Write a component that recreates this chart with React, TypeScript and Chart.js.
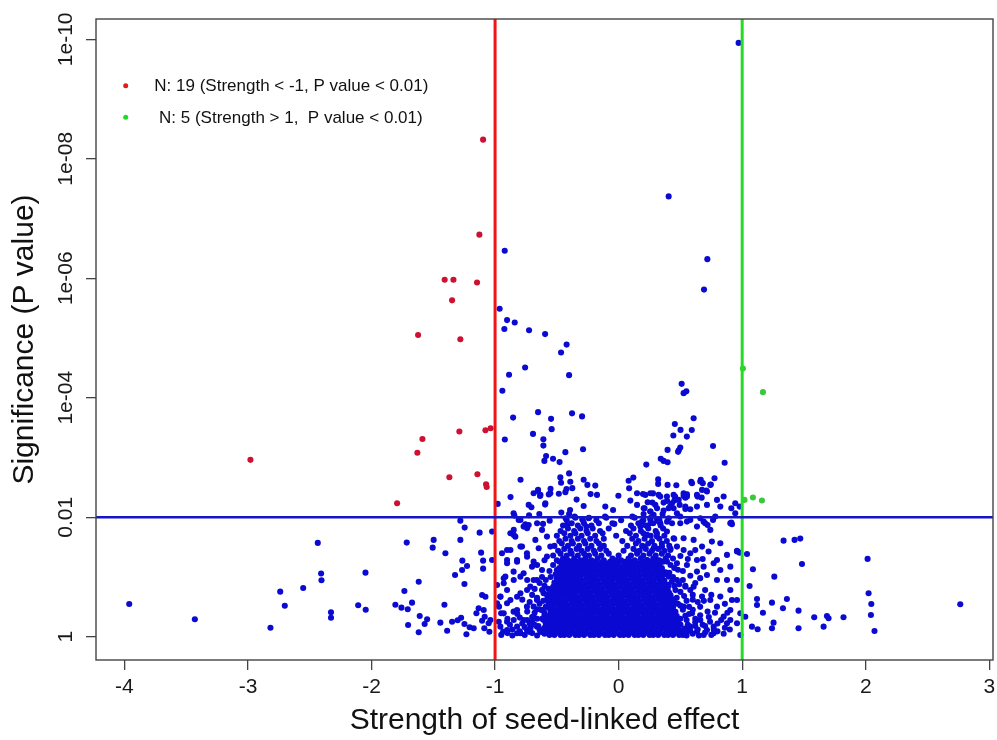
import React, { useEffect, useRef } from "react";
import { Chart, registerables } from "chart.js";

Chart.register(...registerables);

const FONT = '"Liberation Sans", Arial, Helvetica, sans-serif';

// ---------- axes ----------
const xTickValues = [-4, -3, -2, -1, 0, 1, 2, 3];
const yTickValues = [0, 2, 4, 6, 8, 10]; // -log10(P)
const yTickLabels = ["1", "0.01", "1e-04", "1e-06", "1e-08", "1e-10"];
const xLimits = [-4.23, 3.03];
const yLimits = [-0.39, 10.34];
const xTitle = "Strength of seed-linked effect";
const yTitle = "Significance (P value)";

// ---------- thresholds ----------
const strengthCutoffs = [-1, 1];
const pValueCutoff = 0.01;

// ---------- legend ----------
const legendLabels = [
  "N: 19 (Strength < -1, P value < 0.01)",
  " N: 5 (Strength > 1,  P value < 0.01)",
];

// ---------- data: [strength, -log10(P)] ----------
const redPoints: [number, number][] = [
  [-1.097, 8.32], [-1.127, 6.73], [-1.408, 5.975], [-1.337, 5.975], [-1.146, 5.93],
  [-1.348, 5.63], [-1.623, 5.05], [-1.281, 4.98], [-1.078, 3.457], [-1.036, 3.49],
  [-1.289, 3.434], [-1.588, 3.31], [-1.629, 3.08], [-1.37, 2.67], [-1.143, 2.72],
  [-1.073, 2.553], [-1.068, 2.507], [-1.793, 2.234], [-2.98, 2.96],
];

const greenPoints: [number, number][] = [
  [1.006, 4.49], [1.168, 4.094], [1.019, 2.29], [1.087, 2.33], [1.16, 2.28],
];

const blueScatter: [number, number][] = [
  [0.971, 9.94], [0.405, 7.37], [-0.922, 6.46], [0.718, 6.32], [0.691, 5.81],
  [-0.963, 5.49], [-0.903, 5.3], [-0.841, 5.26], [-0.925, 5.15], [-0.725, 5.13], [-0.595, 5.065],
  [-0.421, 4.89], [-0.466, 4.757], [-0.757, 4.506], [-0.887, 4.384], [-0.401, 4.378], [-0.941, 4.116],
  [-0.652, 3.759], [-0.854, 3.668], [-0.547, 3.647], [-0.377, 3.739], [-0.296, 3.688], [-0.542, 3.474],
  [-0.693, 3.395], [-0.921, 3.3], [-0.609, 3.306], [-0.609, 3.199], [-0.288, 3.139], [-0.431, 3.089],
  [-0.587, 3.023], [-0.601, 2.943], [-0.531, 2.98], [-0.478, 2.923], [-0.401, 2.734], [-0.472, 2.667],
  [-0.391, 2.595], [-0.466, 2.578], [-0.794, 2.628], [-0.283, 2.628], [-0.253, 2.541], [-0.189, 2.529],
  [-0.375, 2.487], [-0.422, 2.471], [-0.654, 2.44], [-0.551, 2.477], [-0.484, 2.394], [-0.431, 2.42],
  [-0.565, 2.382], [-0.636, 2.357], [-0.227, 2.387], [-0.175, 2.374], [-0.002, 2.36], [0.081, 2.611],
  [0.085, 2.486], [-0.875, 2.337], [0.119, 2.663],
  [-0.979, 2.223], [-0.34, 2.295], [-0.706, 2.167], [-0.595, 2.211], [-0.108, 2.178], [-0.045, 2.122],
  [-0.283, 2.189], [-0.393, 2.122], [-0.464, 2.077], [-0.401, 2.055], [-0.642, 2.055], [-0.725, 2.034],
  [-0.844, 2.027], [-0.795, 1.955], [-0.755, 1.883], [-0.612, 1.888], [-0.558, 1.943], [-0.429, 1.983],
  [-0.356, 2.01], [-0.294, 1.966], [-0.243, 1.983], [-0.417, 1.871], [-0.261, 1.843], [-0.11, 2.01],
  [-0.035, 1.888],
  [0.51, 4.233], [0.526, 4.077], [0.548, 4.107], [0.607, 3.658], [0.455, 3.56], [0.501, 3.462],
  [0.592, 3.459], [0.443, 3.367], [0.552, 3.35], [0.764, 3.191], [0.396, 3.127], [0.487, 3.122],
  [0.499, 3.166], [0.481, 3.094], [0.858, 2.913], [0.224, 2.881], [0.341, 2.98], [0.364, 2.943],
  [0.396, 2.921], [0.32, 2.633], [0.32, 2.558], [0.396, 2.541], [0.467, 2.536], [0.588, 2.591],
  [0.665, 2.625], [0.681, 2.57], [0.746, 2.546], [0.776, 2.653], [0.71, 2.446], [0.672, 2.328],
  [0.639, 2.345], [0.553, 2.385], [0.54, 2.328], [0.526, 2.357], [0.457, 2.345], [0.392, 2.273],
  [0.337, 2.345], [0.278, 2.399], [0.273, 2.245], [0.235, 2.251], [0.197, 2.39], [0.095, 2.278],
  [0.149, 2.206], [0.21, 2.151], [0.256, 2.094], [0.311, 2.151], [0.418, 2.189], [0.451, 2.278],
  [0.494, 2.206], [0.54, 2.139], [0.472, 2.067], [0.58, 2.134], [0.405, 2.151], [0.356, 2.055],
  [0.283, 2.039], [0.202, 2.055], [0.111, 2.01], [0.189, 1.926], [0.256, 1.966], [0.311, 1.966],
  [0.337, 1.9], [0.392, 1.926], [0.432, 1.9], [0.499, 1.9], [0.58, 1.955], [0.661, 1.983],
  [0.72, 1.871], [0.688, 1.926], [0.764, 1.955], [0.912, 2.151], [0.944, 2.234], [0.979, 2.178],
  [0.912, 1.91], [0.917, 1.883],
  [-3.961, 0.548], [-3.43, 0.291], [-2.818, 0.151], [-2.739, 0.754], [-2.702, 0.519], [-2.553, 0.816],
  [-2.435, 1.57], [-2.408, 1.059], [-2.405, 0.945], [-2.328, 0.41], [-2.328, 0.317], [-2.049, 1.072],
  [-2.108, 0.526], [-2.047, 0.452], [-1.715, 1.575], [-1.497, 1.62], [-1.505, 1.491], [-1.402, 1.397],
  [-1.618, 0.921], [-1.734, 0.765], [-1.807, 0.536], [-1.758, 0.486], [-1.707, 0.459], [-1.672, 0.57],
  [-1.704, 0.196], [-1.61, 0.347], [-1.55, 0.291], [-1.57, 0.213], [-1.618, 0.074], [-1.41, 0.536],
  [-1.443, 0.235], [-1.388, 0.1], [-1.348, 0.251], [-1.303, 0.275], [-1.248, 0.213], [-1.275, 0.318],
  [-1.232, 0.04], [-1.206, 0.157], [-1.173, 0.141], [-1.151, 0.392], [-1.133, 0.476], [-1.084, 0.335],
  [-1.087, 0.141], [-1.105, 0.268], [-1.052, 0.224], [-1.046, 0.084], [-1.105, 0.698], [-1.078, 0.67],
  [-1.248, 0.883], [-1.324, 1.033], [-1.267, 1.117], [-1.227, 1.184], [-1.265, 1.273], [-1.281, 1.62],
  [-1.246, 1.826], [-1.281, 1.943], [-1.125, 1.742], [-1.113, 1.407], [-1.097, 1.273], [-1.097, 1.139],
  [-1.024, 1.759], [-1.024, 1.285], [-0.984, 0.866], [-0.951, 0.392], [-0.968, 0.503], [-0.957, 0.67],
  [-0.93, 0.978], [-0.903, 1.452], [-0.876, 1.732], [-0.836, 1.675], [-0.809, 1.955], [-0.85, 2.067],
  [-0.782, 1.508], [-0.741, 1.816], [-0.728, 2.206], [-0.688, 2.402], [-0.652, 2.457], [-0.633, 2.374],
  [-0.593, 2.234], [-0.553, 2.402], [-0.66, 1.9], [-0.647, 1.481], [-0.688, 1.256], [-0.741, 1.34],
  [-0.822, 1.256], [-0.903, 1.285], [-0.85, 1.089], [-0.917, 1.005], [-0.795, 1.005], [-0.688, 0.95],
  [-0.903, 0.782], [-0.822, 0.67], [-0.741, 0.782], [-0.903, 0.559], [-0.85, 0.419], [-0.903, 0.251],
  [-0.935, 0.084], [-0.822, 0.168], [-0.795, 0.057], [-0.741, 0.28], [-0.688, 0.503], [-0.714, 0.141],
  [-0.633, 0.084], [-0.579, 0.28], [-0.526, 0.224],
  [1.335, 1.608], [1.424, 1.62], [1.47, 1.642], [1.484, 1.218], [1.26, 1.005], [1.06, 0.849],
  [1.087, 1.129], [1.039, 1.385], [0.979, 1.407], [1.12, 0.631], [1.12, 0.531], [1.241, 0.57],
  [1.362, 0.631], [1.33, 0.476], [1.168, 0.402], [1.025, 0.335], [1.254, 0.235], [1.241, 0.141],
  [1.079, 0.168], [1.125, 0.124], [1.456, 0.436], [1.456, 0.141], [1.583, 0.325], [1.686, 0.347],
  [1.699, 0.308], [1.659, 0.168], [1.82, 0.325], [2.015, 1.302], [2.023, 0.727], [2.045, 0.548],
  [2.042, 0.363], [2.071, 0.095], [2.765, 0.543], [0.958, 1.44], [0.904, 1.9], [0.985, 0.028],
  [0.149, 2.402], [0.216, 2.374], [0.257, 2.402], [0.324, 2.374], [0.391, 2.346], [0.445, 2.374],
  [0.526, 2.402], [0.553, 2.346], [0.594, 2.569], [0.661, 2.597], [0.742, 2.541], [0.675, 2.457],
  [0.715, 2.43], [0.634, 2.374], [0.486, 2.29], [0.432, 2.234], [0.364, 2.245], [0.297, 2.206],
  [0.203, 2.15], [0.257, 2.095], [0.364, 2.111], [0.445, 2.15], [0.54, 2.178], [0.634, 2.178],
  [0.715, 2.206], [0.796, 2.29], [0.85, 2.346], [0.823, 2.178], [0.944, 2.067], [0.782, 2.011],
  [0.701, 1.899], [0.742, 1.788], [0.634, 1.843], [0.553, 1.927], [0.499, 2.011], [0.405, 1.983],
  [0.324, 1.927], [0.257, 1.899], [0.176, 1.843], [0.23, 1.704], [0.31, 1.676], [0.391, 1.76],
  [0.445, 1.648], [0.526, 1.648], [0.607, 1.62], [0.675, 1.508], [0.755, 1.592], [0.823, 1.564],
  [0.728, 1.425], [0.796, 1.285], [0.877, 1.369], [0.958, 1.425], [0.904, 1.173], [0.823, 1.117],
  [0.769, 1.229], [0.688, 1.173], [0.634, 1.285], [0.58, 1.397], [0.526, 1.452], [0.472, 1.508],
  [0.418, 1.452], [0.351, 1.508], [0.283, 1.48], [0.203, 1.508], [0.149, 1.425], [0.23, 1.285],
  [0.31, 1.285], [0.391, 1.257], [0.472, 1.229], [0.553, 1.201], [0.634, 1.09], [0.715, 1.034],
  [0.796, 0.95], [0.877, 0.95], [0.904, 0.782], [0.958, 0.95], [0.917, 0.615], [0.958, 0.615],
  [0.985, 0.392], [0.904, 0.447], [0.85, 0.336], [0.796, 0.503], [0.742, 0.615], [0.675, 0.671],
  [0.607, 0.838], [0.54, 0.838], [0.472, 0.95], [0.405, 1.006], [0.337, 1.062], [0.257, 1.09],
  [0.823, 0.671], [0.877, 0.224], [0.904, 0.28], [0.958, 0.224], [0.769, 0.168], [0.715, 0.112],
  [0.661, 0.28], [0.594, 0.392], [0.526, 0.503], [0.459, 0.559], [0.391, 0.671], [0.769, 0.057],
  [0.688, 0.029], [0.634, 0.085], [0.58, 0.168], [0.526, 0.057], [0.445, 0.168], [0.364, 0.28],
  [-0.849, 1.788], [-0.769, 1.843], [-0.728, 1.871], [-0.849, 1.704], [-0.795, 1.508], [-0.876, 1.452],
  [-0.944, 1.397], [-0.903, 1.229], [-0.822, 1.285], [-0.742, 1.397], [-0.674, 1.62], [-0.62, 1.788],
  [-0.58, 1.676], [-0.701, 1.173], [-0.769, 1.062], [-0.849, 0.95], [-0.93, 0.894], [-0.957, 0.671],
  [-0.876, 0.615], [-0.795, 0.727], [-0.715, 0.838], [-0.661, 0.95], [-0.62, 1.117], [-0.58, 1.341],
  [-0.553, 1.508], [-0.822, 0.447], [-0.742, 0.503], [-0.661, 0.615], [-0.607, 0.727], [-0.93, 0.391],
  [-0.849, 0.28], [-0.769, 0.28], [-0.688, 0.336], [-0.62, 0.447], [-0.566, 0.559], [-0.903, 0.112],
  [-0.822, 0.057], [-0.742, 0.112], [-0.661, 0.168], [-0.607, 0.28], [-0.553, 0.336], [-0.957, 0.168],
  [-0.984, 0.559], [-1.038, 0.28], [-1.092, 0.447],
  [-0.95, 0.03], [-0.9, 0.06], [-0.86, 0.02], [-0.8, 0.09], [-0.76, 0.03], [-0.7, 0.06], [-0.66, 0.02],
  [-0.62, 0.08], [-0.6, 0.15], [-0.97, 0.25], [-0.88, 0.2], [-0.8, 0.32], [-0.72, 0.22], [-0.66, 0.3],
  [-0.6, 0.4], [-0.64, 0.55], [-0.58, 0.7], [-0.7, 0.7], [-0.6, 0.85],
  [0.55, 0.02], [0.6, 0.05], [0.65, 0.02], [0.7, 0.07], [0.75, 0.03], [0.8, 0.09], [0.85, 0.05],
  [0.9, 0.12], [0.56, 0.12], [0.62, 0.18], [0.68, 0.2], [0.74, 0.25], [0.83, 0.28], [0.5, 0.3],
  [0.55, 0.28], [0.6, 0.45], [0.66, 0.5], [0.72, 0.42], [0.48, 0.55], [0.55, 0.6], [0.5, 0.75],
  [0.45, 0.85], [0.52, 0.95], [0.44, 1.0], [0.48, 1.12], [0.42, 1.2],
  [-0.6, 0.05], [-0.61, 0.12], [-0.59, 0.22], [-0.62, 0.3], [-0.6, 0.36], [-0.63, 0.45], [-0.59, 0.5],
  [-0.61, 0.6], [-0.58, 0.62], [-0.62, 0.78], [-0.57, 0.8], [-0.59, 0.95], [-0.55, 1.0], [-0.56, 1.1],
  [-0.53, 1.2], [-0.65, 0.18], [-0.68, 0.4], [-0.66, 0.65], [-0.64, 0.9], [-0.7, 0.25],
  [0.53, 0.08], [0.56, 0.2], [0.54, 0.35], [0.52, 0.45], [0.57, 0.38], [0.5, 0.52], [0.53, 0.68],
  [0.47, 0.65], [0.46, 0.78], [0.49, 0.88], [0.43, 0.92], [0.41, 1.07], [0.45, 1.15], [0.62, 0.3],
  [0.64, 0.12], [0.6, 0.62], [0.58, 0.78],
  [0.58, 0.1], [0.62, 0.24], [0.66, 0.36], [0.7, 0.18], [0.73, 0.33], [0.77, 0.12], [0.8, 0.22],
  [0.64, 0.58], [0.69, 0.6], [0.7, 0.78], [0.62, 0.9], [0.66, 0.98], [0.75, 0.7], [0.78, 0.4],
  [0.86, 0.15], [0.57, 0.5], [0.6, 0.7], [0.54, 0.85], [0.58, 1.02], [0.52, 1.1], [0.56, 1.3],
  [0.5, 1.35], [0.62, 1.45], [0.68, 1.3], [0.86, 0.55], [0.88, 0.4],
  [-0.64, 0.12], [-0.68, 0.2], [-0.72, 0.08], [-0.76, 0.16], [-0.7, 0.33], [-0.74, 0.42], [-0.78, 0.22],
  [-0.66, 0.46], [-0.72, 0.58], [-0.78, 0.62], [-0.68, 0.8], [-0.74, 0.95], [-0.62, 1.0], [-0.66, 1.2],
  [-0.6, 1.28], [-0.82, 0.38], [-0.86, 0.12], [-0.9, 0.3],
];

// dense central cloud, read row by row: [-log10(P), strengths...]
const blueCloudRows: [number, number[]][] = [
  [0.03, [-0.56, -0.52, -0.47, -0.44, -0.4, -0.35, -0.32, -0.28, -0.23, -0.2, -0.16, -0.11, -0.08, -0.04, 0.01, 0.04, 0.08, 0.13, 0.16, 0.2, 0.25, 0.28, 0.32, 0.37, 0.4, 0.44, 0.49, 0.52]],
  [0.065, [-0.58, -0.54, -0.5, -0.45, -0.42, -0.38, -0.33, -0.3, -0.26, -0.21, -0.18, -0.14, -0.09, -0.06, -0.02, 0.03, 0.06, 0.1, 0.15, 0.18, 0.22, 0.27, 0.3, 0.34, 0.39, 0.42, 0.46, 0.51, 0.55]],
  [0.1, [-0.54, -0.5, -0.45, -0.42, -0.38, -0.33, -0.3, -0.26, -0.21, -0.18, -0.14, -0.09, -0.06, -0.02, 0.03, 0.06, 0.1, 0.15, 0.18, 0.22, 0.27, 0.3, 0.34, 0.39, 0.42, 0.46, 0.5]],
  [0.135, [-0.57, -0.52, -0.48, -0.44, -0.4, -0.36, -0.31, -0.28, -0.24, -0.19, -0.16, -0.12, -0.07, -0.04, 0.0, 0.05, 0.08, 0.12, 0.17, 0.2, 0.24, 0.29, 0.32, 0.36, 0.41, 0.44, 0.48, 0.53]],
  [0.17, [-0.56, -0.51, -0.48, -0.44, -0.39, -0.36, -0.32, -0.27, -0.24, -0.2, -0.15, -0.12, -0.08, -0.03, 0.0, 0.04, 0.09, 0.12, 0.16, 0.21, 0.24, 0.28, 0.33, 0.36, 0.4, 0.45, 0.48]],
  [0.205, [-0.58, -0.53, -0.5, -0.46, -0.41, -0.38, -0.34, -0.29, -0.26, -0.22, -0.17, -0.14, -0.1, -0.05, -0.02, 0.02, 0.07, 0.1, 0.14, 0.19, 0.22, 0.26, 0.31, 0.34, 0.38, 0.43, 0.46, 0.5]],
  [0.24, [-0.54, -0.49, -0.46, -0.42, -0.37, -0.34, -0.3, -0.25, -0.22, -0.18, -0.13, -0.1, -0.06, -0.01, 0.02, 0.06, 0.11, 0.14, 0.18, 0.23, 0.26, 0.3, 0.35, 0.38, 0.42, 0.46]],
  [0.275, [-0.56, -0.52, -0.48, -0.44, -0.39, -0.36, -0.32, -0.27, -0.24, -0.2, -0.15, -0.12, -0.08, -0.03, 0.0, 0.04, 0.09, 0.12, 0.16, 0.21, 0.24, 0.28, 0.33, 0.36, 0.4, 0.44, 0.48]],
  [0.31, [-0.55, -0.5, -0.47, -0.43, -0.38, -0.35, -0.31, -0.26, -0.23, -0.19, -0.14, -0.11, -0.07, -0.02, 0.01, 0.05, 0.1, 0.13, 0.17, 0.22, 0.25, 0.29, 0.34, 0.37, 0.41, 0.45]],
  [0.345, [-0.57, -0.53, -0.49, -0.45, -0.41, -0.37, -0.33, -0.28, -0.25, -0.21, -0.16, -0.13, -0.09, -0.04, -0.01, 0.03, 0.08, 0.11, 0.15, 0.2, 0.23, 0.27, 0.32, 0.35, 0.39, 0.43, 0.47]],
  [0.38, [-0.53, -0.49, -0.45, -0.4, -0.37, -0.33, -0.28, -0.25, -0.21, -0.16, -0.13, -0.09, -0.04, -0.01, 0.03, 0.08, 0.11, 0.15, 0.2, 0.23, 0.27, 0.32, 0.35, 0.39, 0.44]],
  [0.415, [-0.55, -0.51, -0.47, -0.42, -0.39, -0.35, -0.3, -0.27, -0.23, -0.18, -0.15, -0.11, -0.06, -0.03, 0.01, 0.06, 0.09, 0.13, 0.18, 0.21, 0.25, 0.3, 0.33, 0.37, 0.42, 0.46]],
  [0.45, [-0.55, -0.51, -0.46, -0.43, -0.39, -0.34, -0.31, -0.27, -0.22, -0.19, -0.15, -0.1, -0.07, -0.03, 0.02, 0.05, 0.09, 0.14, 0.17, 0.21, 0.26, 0.29, 0.33, 0.38, 0.42]],
  [0.485, [-0.57, -0.53, -0.48, -0.45, -0.41, -0.36, -0.33, -0.29, -0.24, -0.21, -0.17, -0.12, -0.09, -0.05, 0.0, 0.03, 0.07, 0.12, 0.15, 0.19, 0.24, 0.27, 0.31, 0.36, 0.4, 0.44]],
  [0.52, [-0.53, -0.48, -0.45, -0.41, -0.36, -0.33, -0.29, -0.24, -0.21, -0.17, -0.12, -0.09, -0.05, 0.0, 0.03, 0.07, 0.12, 0.15, 0.19, 0.24, 0.27, 0.31, 0.36, 0.4, 0.44]],
  [0.555, [-0.55, -0.5, -0.47, -0.43, -0.38, -0.35, -0.31, -0.26, -0.23, -0.19, -0.14, -0.11, -0.07, -0.02, 0.01, 0.05, 0.1, 0.13, 0.17, 0.22, 0.25, 0.29, 0.34, 0.38, 0.42, 0.46]],
  [0.59, [-0.54, -0.5, -0.47, -0.43, -0.38, -0.35, -0.31, -0.26, -0.23, -0.19, -0.14, -0.11, -0.07, -0.02, 0.01, 0.05, 0.1, 0.13, 0.17, 0.22, 0.25, 0.29, 0.34, 0.38, 0.42]],
  [0.625, [-0.56, -0.52, -0.49, -0.45, -0.4, -0.37, -0.33, -0.28, -0.25, -0.21, -0.16, -0.13, -0.09, -0.04, -0.01, 0.03, 0.08, 0.11, 0.15, 0.2, 0.23, 0.27, 0.32, 0.36, 0.4, 0.44]],
  [0.66, [-0.52, -0.48, -0.45, -0.4, -0.37, -0.33, -0.28, -0.25, -0.21, -0.16, -0.13, -0.09, -0.04, -0.01, 0.03, 0.08, 0.11, 0.15, 0.2, 0.23, 0.27, 0.32, 0.36, 0.4]],
  [0.695, [-0.54, -0.5, -0.47, -0.42, -0.39, -0.35, -0.3, -0.27, -0.23, -0.18, -0.15, -0.11, -0.06, -0.03, 0.01, 0.06, 0.09, 0.13, 0.18, 0.21, 0.25, 0.3, 0.34, 0.38, 0.42]],
  [0.73, [-0.53, -0.5, -0.46, -0.42, -0.38, -0.35, -0.3, -0.27, -0.23, -0.18, -0.15, -0.11, -0.06, -0.03, 0.01, 0.06, 0.09, 0.13, 0.18, 0.21, 0.25, 0.3, 0.34, 0.41]],
  [0.765, [-0.55, -0.52, -0.48, -0.44, -0.4, -0.37, -0.32, -0.29, -0.25, -0.2, -0.17, -0.13, -0.08, -0.05, -0.01, 0.04, 0.07, 0.11, 0.16, 0.19, 0.23, 0.28, 0.32, 0.36, 0.4]],
  [0.8, [-0.51, -0.48, -0.44, -0.4, -0.36, -0.32, -0.28, -0.25, -0.2, -0.16, -0.13, -0.08, -0.05, -0.01, 0.04, 0.07, 0.11, 0.16, 0.19, 0.23, 0.28, 0.32, 0.38]],
  [0.835, [-0.53, -0.5, -0.46, -0.42, -0.38, -0.34, -0.3, -0.27, -0.22, -0.18, -0.15, -0.1, -0.07, -0.03, 0.02, 0.05, 0.09, 0.14, 0.17, 0.21, 0.26, 0.3, 0.35, 0.4]],
  [0.87, [-0.5, -0.46, -0.42, -0.38, -0.34, -0.3, -0.27, -0.22, -0.18, -0.15, -0.1, -0.07, -0.03, 0.02, 0.05, 0.09, 0.14, 0.17, 0.21, 0.26, 0.3, 0.35, 0.4]],
  [0.905, [-0.52, -0.48, -0.44, -0.4, -0.36, -0.32, -0.29, -0.24, -0.2, -0.17, -0.12, -0.09, -0.05, 0.0, 0.03, 0.07, 0.12, 0.15, 0.19, 0.24, 0.28, 0.33, 0.37]],
  [0.94, [-0.48, -0.44, -0.4, -0.36, -0.32, -0.29, -0.24, -0.2, -0.17, -0.12, -0.09, -0.05, 0.0, 0.03, 0.07, 0.12, 0.15, 0.19, 0.24, 0.28, 0.33, 0.37]],
  [0.975, [-0.5, -0.46, -0.42, -0.38, -0.34, -0.31, -0.26, -0.22, -0.19, -0.14, -0.11, -0.07, -0.02, 0.01, 0.05, 0.1, 0.13, 0.17, 0.22, 0.26, 0.31, 0.35]],
  [1.01, [-0.49, -0.46, -0.42, -0.38, -0.34, -0.31, -0.26, -0.22, -0.19, -0.14, -0.11, -0.06, -0.02, 0.02, 0.05, 0.1, 0.13, 0.17, 0.22, 0.26, 0.31, 0.35]],
  [1.045, [-0.51, -0.48, -0.44, -0.4, -0.36, -0.33, -0.28, -0.24, -0.21, -0.16, -0.13, -0.08, -0.04, 0.0, 0.04, 0.08, 0.12, 0.15, 0.2, 0.24, 0.29, 0.33, 0.37]],
  [1.08, [-0.47, -0.44, -0.4, -0.36, -0.33, -0.28, -0.24, -0.21, -0.16, -0.12, -0.07, -0.03, 0.0, 0.04, 0.08, 0.11, 0.15, 0.2, 0.24, 0.29, 0.33, 0.38]],
  [1.115, [-0.5, -0.46, -0.42, -0.38, -0.35, -0.31, -0.26, -0.22, -0.19, -0.14, -0.1, -0.06, -0.02, 0.02, 0.06, 0.1, 0.13, 0.18, 0.22, 0.27, 0.31, 0.35]],
  [1.15, [-0.48, -0.42, -0.38, -0.35, -0.3, -0.26, -0.23, -0.18, -0.14, -0.09, -0.04, 0.01, 0.06, 0.09, 0.13, 0.18, 0.22, 0.27, 0.31, 0.35]],
  [1.185, [-0.45, -0.41, -0.36, -0.33, -0.28, -0.24, -0.21, -0.16, -0.12, -0.07, -0.03, 0.04, 0.08, 0.11, 0.15, 0.2, 0.24, 0.29, 0.33]],
  [1.22, [-0.46, -0.4, -0.37, -0.32, -0.28, -0.25, -0.2, -0.15, -0.1, -0.04, 0.0, 0.07, 0.11, 0.16, 0.2, 0.25, 0.29, 0.33]],
  [1.255, [-0.48, -0.43, -0.39, -0.34, -0.3, -0.24, -0.19, -0.13, -0.07, 0.05, 0.1, 0.14, 0.19, 0.23, 0.27, 0.31, 0.36]],
  [1.28, [-0.5, -0.41, -0.31, -0.22, -0.12, -0.02, 0.02, 0.13, 0.23, 0.33]],
  [1.31, [-0.45, -0.36, -0.27, -0.17, -0.05, 0.08, 0.18, 0.28, 0.38, 0.44]],
  [1.36, [-0.53, -0.42, -0.33, -0.24, -0.14, 0.0, 0.1, 0.2, 0.3, 0.4]],
  [1.39, [-0.47, -0.38, -0.28, -0.19, -0.08, 0.15, 0.25, 0.35]],
  [1.44, [-0.49, -0.39, -0.3, -0.2, -0.1, 0.04, 0.17, 0.27, 0.37]],
  [1.47, [-0.44, -0.34, -0.25, -0.15, 0.12, 0.22, 0.32, 0.42]],
  [1.52, [-0.52, -0.41, -0.32, -0.22, -0.12, 0.07, 0.19, 0.29, 0.41]],
  [1.56, [-0.46, -0.37, -0.27, -0.16, 0.14, 0.24, 0.35]],
  [1.6, [-0.48, -0.38, -0.28, -0.18, 0.03, 0.16, 0.27, 0.39]],
  [1.64, [-0.43, -0.33, -0.23, -0.12, 0.11, 0.21, 0.33, 0.45]],
  [1.69, [-0.5, -0.39, -0.3, -0.19, -0.02, 0.14, 0.26, 0.37]],
  [1.73, [-0.44, -0.35, -0.25, -0.13, 0.09, 0.2, 0.31]],
  [1.77, [-0.47, -0.36, -0.26, -0.15, 0.06, 0.18, 0.3]],
  [1.81, [-0.41, -0.31, -0.21, -0.08, 0.12, 0.24, 0.36]],
  [1.86, [-0.45, -0.33, -0.22, 0.1, 0.22, 0.34]],
  [1.9, [-0.38, -0.28, -0.16, -0.05, 0.16, 0.28]],
  [1.95, [-0.42, -0.29, -0.18, 0.02, 0.2, 0.33]],
  [1.99, [-0.35, -0.24, -0.1, 0.13, 0.26]],
];

// ---------- colours ----------
const blueColor = "#0a0ad2";
const redColor = "#cc1133";
const greenColor = "#3cc83c";
const legendColors = ["#e41a1a", "#1fdc1f"];
const cutoffColors = ["#f01414", "#22dd22"];
const pLineColor = "#1515c8";

const overlayPlugin = {
  id: "overlay",
  afterDatasetsDraw(chart: any) {
    const { ctx, chartArea: a, scales } = chart;
    const xs = scales.x;
    const ys = scales.y;
    ctx.save();
    ctx.beginPath();
    ctx.rect(a.left, a.top, a.right - a.left, a.bottom - a.top);
    ctx.clip();
    strengthCutoffs.forEach((v, i) => {
      const px = xs.getPixelForValue(v);
      ctx.strokeStyle = cutoffColors[i];
      ctx.lineWidth = 3;
      ctx.beginPath();
      ctx.moveTo(px, a.top);
      ctx.lineTo(px, a.bottom);
      ctx.stroke();
    });
    const py = ys.getPixelForValue(-Math.log10(pValueCutoff));
    ctx.strokeStyle = pLineColor;
    ctx.lineWidth = 2.5;
    ctx.beginPath();
    ctx.moveTo(a.left, py);
    ctx.lineTo(a.right, py);
    ctx.stroke();
    ctx.restore();

    // frame
    ctx.save();
    ctx.strokeStyle = "#444";
    ctx.lineWidth = 1.4;
    ctx.strokeRect(a.left, a.top, a.right - a.left, a.bottom - a.top);
    ctx.restore();

    // legend
    ctx.save();
    ctx.font = `17px ${FONT}`;
    ctx.textAlign = "left";
    ctx.textBaseline = "alphabetic";
    legendLabels.forEach((label, i) => {
      const cy = a.top + 66.7 + i * 31.6;
      ctx.fillStyle = legendColors[i];
      ctx.beginPath();
      ctx.arc(a.left + 29.7, cy, 2.5, 0, Math.PI * 2);
      ctx.fill();
      ctx.fillStyle = "#111";
      ctx.fillText(label, a.left + 58.3, cy + 5.4);
    });
    ctx.restore();
  },
};

export default function App() {
  const ref = useRef<HTMLCanvasElement>(null);

  useEffect(() => {
    if (!ref.current) return;
    const toXY = (pts: [number, number][]) => pts.map(([x, y]) => ({ x, y }));
    const cloud: [number, number][] = blueCloudRows.flatMap(([y, xsRow]) =>
      xsRow.map((x) => [x, y] as [number, number])
    );
    const bluePoints = [...blueScatter, ...cloud];
    const pointStyle = { pointRadius: 3.05, pointHoverRadius: 3.05, borderWidth: 0, pointBorderWidth: 0 };

    const chart = new Chart(ref.current, {
      type: "scatter",
      data: {
        datasets: [
          { label: "red", data: toXY(redPoints), backgroundColor: redColor, ...pointStyle },
          { label: "green", data: toXY(greenPoints), backgroundColor: greenColor, ...pointStyle },
          { label: "blue", data: toXY(bluePoints), backgroundColor: blueColor, ...pointStyle },
        ],
      },
      options: {
        animation: false,
        responsive: false,
        devicePixelRatio: 1,
        events: [],
        layout: { padding: { top: 19, right: 4, left: 0, bottom: 0 } },
        plugins: { legend: { display: false }, tooltip: { enabled: false } },
        scales: {
          x: {
            type: "linear",
            min: xLimits[0],
            max: xLimits[1],
            afterBuildTicks: (s: any) => {
              s.ticks = xTickValues.map((v) => ({ value: v }));
            },
            afterFit: (s: any) => {
              s.height = 80;
              s.paddingLeft = 0;
              s.paddingRight = 0;
            },
            ticks: {
              autoSkip: false,
              maxRotation: 0,
              padding: 5,
              color: "#1a1a1a",
              font: { family: FONT, size: 21 },
              callback: (v: any) => String(v),
            },
            grid: { drawOnChartArea: false, drawTicks: true, tickLength: 10, color: "#444", lineWidth: 1.3 },
            border: { display: false },
            title: {
              display: true,
              text: xTitle,
              color: "#111",
              font: { family: FONT, size: 30 },
              padding: { top: 0, bottom: 1.4 },
            },
          },
          y: {
            type: "linear",
            min: yLimits[0],
            max: yLimits[1],
            afterBuildTicks: (s: any) => {
              s.ticks = yTickValues.map((v) => ({ value: v }));
            },
            afterFit: (s: any) => {
              s.width = 96;
              s.paddingTop = 0;
              s.paddingBottom = 0;
            },
            ticks: {
              autoSkip: false,
              minRotation: 90,
              maxRotation: 90,
              crossAlign: "center",
              padding: -7,
              color: "#1a1a1a",
              font: { family: FONT, size: 21 },
              callback: (v: any) => {
                const i = yTickValues.indexOf(Number(v));
                return i >= 0 ? yTickLabels[i] : "";
              },
            },
            grid: { drawOnChartArea: false, drawTicks: true, tickLength: 10, color: "#444", lineWidth: 1.3 },
            border: { display: false },
            title: {
              display: true,
              text: yTitle,
              color: "#111",
              font: { family: FONT, size: 30 },
              padding: { top: 6.6, bottom: 0 },
            },
          },
        },
      } as any,
      plugins: [overlayPlugin],
    });
    return () => chart.destroy();
  }, []);

  return (
    <div style={{ position: "absolute", left: 0, top: 0, width: 997, height: 740, background: "#fff" }}>
      <canvas ref={ref} width={997} height={740} style={{ display: "block" }} />
    </div>
  );
}
